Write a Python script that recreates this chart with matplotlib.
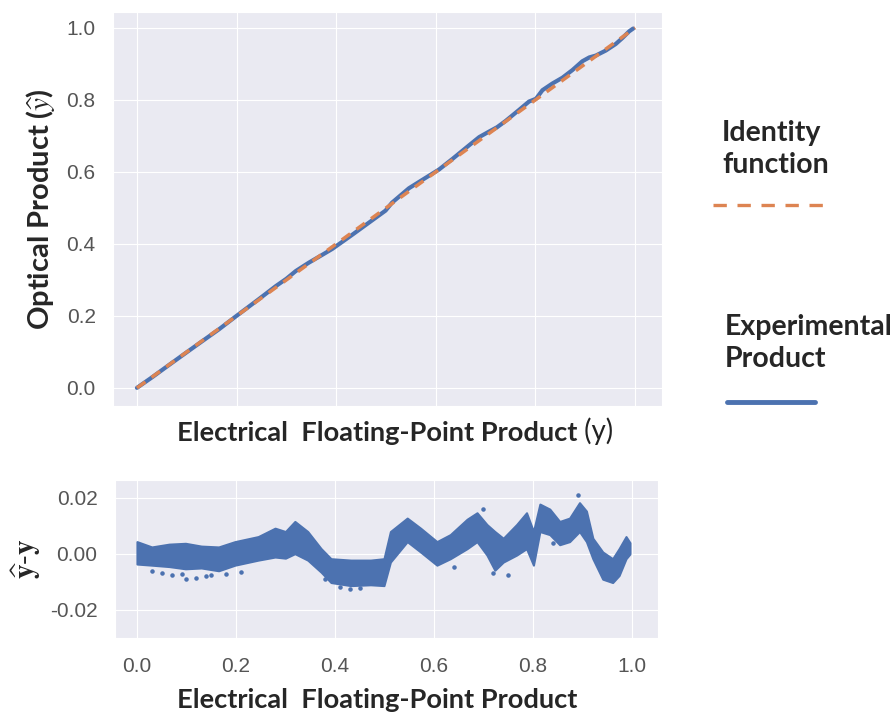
import matplotlib
matplotlib.use("Agg")
import matplotlib.pyplot as plt
from matplotlib.lines import Line2D
import seaborn as sns

# residual band (y_hat - y): x, lower edge, upper edge
res_x = [0.000, 0.030, 0.065, 0.098, 0.130, 0.165, 0.198, 0.245, 0.279, 0.300,
         0.319, 0.345, 0.372, 0.392, 0.432, 0.472, 0.499, 0.512, 0.546, 0.573,
         0.606, 0.633, 0.667, 0.687, 0.707, 0.723, 0.740, 0.767, 0.787, 0.801,
         0.814, 0.834, 0.854, 0.874, 0.894, 0.908, 0.921, 0.941, 0.961, 0.974,
         0.988, 0.996]
res_lo = [-0.0036, -0.0040, -0.0045, -0.0053, -0.0050, -0.0060, -0.0040, -0.0022, -0.0011, -0.0015,
          0.0001, -0.0022, -0.0065, -0.0102, -0.0113, -0.0110, -0.0113, -0.0029, 0.0044, 0.0007,
          -0.0040, -0.0017, 0.0019, 0.0044, -0.0004, -0.0058, -0.0029, -0.0004, 0.0019, -0.0040,
          0.0080, 0.0069, 0.0033, 0.0044, 0.0080, 0.0044, -0.0017, -0.0090, -0.0102, -0.0077,
          -0.0017, 0.0000]
res_hi = [0.0044, 0.0025, 0.0035, 0.0038, 0.0028, 0.0025, 0.0044, 0.0062, 0.0092, 0.0080,
          0.0116, 0.0080, 0.0019, -0.0017, -0.0022, -0.0022, -0.0017, 0.0080, 0.0128, 0.0092,
          0.0044, 0.0069, 0.0124, 0.0147, 0.0105, 0.0080, 0.0056, 0.0105, 0.0147, 0.0080,
          0.0178, 0.0160, 0.0116, 0.0128, 0.0183, 0.0153, 0.0056, 0.0007, -0.0017, 0.0019,
          0.0062, 0.0040]

# stray points below / above the band
out_x = [0.03, 0.05, 0.07, 0.09, 0.10, 0.12, 0.14, 0.15, 0.18, 0.21, 0.38, 0.41, 0.43,
         0.45, 0.56, 0.57, 0.64, 0.70, 0.72, 0.75, 0.84, 0.891]
out_y = [-0.0060, -0.0068, -0.0075, -0.0070, -0.0090, -0.0085, -0.0080, -0.0075, -0.0070,
         -0.0065, -0.0090, -0.0118, -0.0125, -0.0120, 0.0050, 0.0047, -0.0045, 0.0160,
         -0.0068, -0.0075, 0.0040, 0.0211]

id_x = [0.0, 1.0]

top_yticks = [0.0, 0.2, 0.4, 0.6, 0.8, 1.0]
bot_yticks = [-0.02, 0.0, 0.02]
bot_ylabels = ["-0.02", "0.00", "0.02"]
xticks = [0.0, 0.2, 0.4, 0.6, 0.8, 1.0]

blue = "#4c72b0"
orange = "#dd8452"
bold_font = ["Lato", "DejaVu Sans"]

sns.set_style("darkgrid")
plt.rcParams["font.family"] = ["Liberation Sans", "DejaVu Sans"]
plt.rcParams["mathtext.fontset"] = "stix"

fig = plt.figure(figsize=(8.92, 7.13), dpi=100)

ax1 = fig.add_axes([0.1267, 0.4306, 0.6155, 0.5526])
ax2 = fig.add_axes([0.1289, 0.1052, 0.6087, 0.2216])

# top panel: experimental product vs identity
exp_y = [x + (lo + hi) / 2 for x, lo, hi in zip(res_x, res_lo, res_hi)]
ax1.plot(res_x, exp_y, color=blue, lw=3.0, solid_capstyle="round")
ax1.plot(id_x, id_x, color=orange, lw=2.5, dashes=(3, 2.2))
ax1.set_xlim(-0.048, 1.054)
ax1.set_ylim(-0.05, 1.044)
ax1.set_xticks(xticks)
ax1.set_yticks(top_yticks)
ax1.set_yticklabels(["%.1f" % v for v in top_yticks])
ax1.tick_params(axis="x", labelbottom=False)
ax1.tick_params(axis="y", labelsize=15, labelcolor="#555555", pad=9)
ax1.set_ylabel(r"Optical Product ($\widehat{y}$)", family=bold_font,
               fontweight="bold", fontsize=21, labelpad=7)

# bottom panel: residuals
ax2.fill_between(res_x, res_lo, res_hi, color=blue, lw=1.5, edgecolor=blue)
ax2.scatter(out_x, out_y, s=5, color=blue)
ax2.set_xlim(-0.0444, 1.0525)
ax2.set_ylim(-0.030, 0.0264)
ax2.set_xticks(xticks)
ax2.set_xticklabels(["%.1f" % v for v in xticks])
ax2.set_yticks(bot_yticks)
ax2.set_yticklabels(bot_ylabels)
ax2.tick_params(labelsize=15, labelcolor="#555555")
ax2.tick_params(axis="y", pad=9)
ax2.tick_params(axis="x", pad=10)
ax2.set_ylabel(r"$\mathbf{\widehat{y}}$-$\mathbf{y}$", fontsize=21, labelpad=5)

# x labels
t1 = fig.text(177 / 892, 1 - 441 / 713, "Electrical  Floating-Point Product",
              family=bold_font, fontweight="bold", fontsize=19.6,
              ha="left", va="baseline")
fig.text(177 / 892, 1 - 708 / 713, "Electrical  Floating-Point Product",
         family=bold_font, fontweight="bold", fontsize=19.6,
         ha="left", va="baseline")
ax1.annotate(" (y)", xy=(1, 0), xycoords=t1, family=bold_font,
             fontsize=20, ha="left", va="bottom", color="#222222")

# side legend drawn by hand
fig.text(722 / 892, 1 - 173 / 713, "Identity\nfunction", family=bold_font,
         fontweight="bold", fontsize=20.5, ha="left", va="baseline", linespacing=1.28)
fig.add_artist(Line2D([713 / 892, 825 / 892], [1 - 205 / 713, 1 - 205 / 713],
                      color=orange, lw=2.4, dashes=(4, 3.2)))
fig.text(725 / 892, 1 - 367 / 713, "Experimental\nProduct", family=bold_font,
         fontweight="bold", fontsize=20.5, ha="left", va="baseline", linespacing=1.28)
fig.add_artist(Line2D([727 / 892, 815 / 892], [1 - 402 / 713, 1 - 402 / 713],
                      color=blue, lw=3.5))

fig.savefig("out.png", dpi=100)
